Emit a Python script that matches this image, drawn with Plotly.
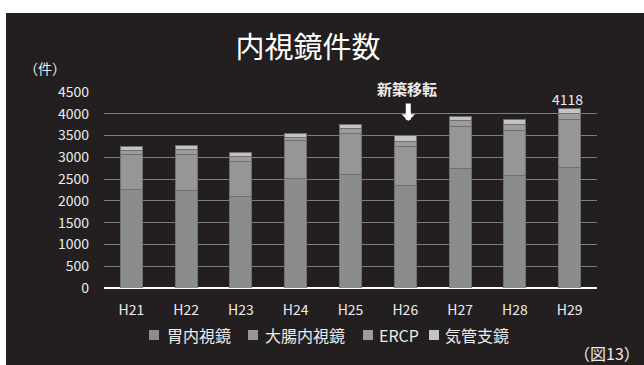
import plotly.graph_objects as go

# 年度ごとの内視鏡件数（積み上げ）
years = ["H21", "H22", "H23", "H24", "H25", "H26", "H27", "H28", "H29"]
gastro = [2270, 2236, 2098, 2511, 2603, 2358, 2741, 2587, 2760]      # 胃内視鏡
colon = [790, 828, 810, 868, 941, 888, 972, 1035, 1120]              # 大腸内視鏡
ercp = [95, 120, 115, 80, 115, 122, 122, 122, 120]                   # ERCP
broncho = [91, 85, 85, 92, 92, 130, 107, 122, 118]                   # 気管支鏡
y_ticks = [0, 500, 1000, 1500, 2000, 2500, 3000, 3500, 4000, 4500]

series = [
    ("胃内視鏡", gastro, "#8b8c8e"),
    ("大腸内視鏡", colon, "#969696"),
    ("ERCP", ercp, "#9c9c9c"),
    ("気管支鏡", broncho, "#c3c3c3"),
]

FONT = "Noto Sans CJK JP"
TXT = "#ececec"
BG = "#231f20"

# プロット領域（ピクセル）
L, R, T, B = 104, 47, 92, 77
W, H = 644, 365
PW, PH = W - L - R, H - T - B


def px_x(p):
    return (p - L) / PW


def px_y(p):
    return (H - B - p) / PH


fig = go.Figure()
for name, vals, col in series:
    fig.add_trace(go.Bar(
        x=years, y=vals, name=name, showlegend=False,
        marker=dict(color=col, line=dict(color="#707070", width=1)),
    ))

totals = [a + b + c + d for a, b, c, d in zip(gastro, colon, ercp, broncho)]

# 最終年度の合計値ラベル
fig.add_annotation(x=years[-1], y=totals[-1], text=str(totals[-1]),
                   showarrow=False, yshift=10, xshift=-2,
                   font=dict(family=FONT, size=14, color=TXT))

# 新築移転の注記と矢印
fig.add_annotation(x="H26", xref="x", yref="paper", y=px_y(89), yanchor="middle",
                   xshift=2, text="<b>新築移転</b>", showarrow=False,
                   font=dict(family=FONT, size=15, color=TXT))
fig.add_annotation(x="H26", xref="x", yref="paper", y=px_y(121), xshift=3,
                   ax=0, ay=-19, text="", showarrow=True, arrowhead=1,
                   arrowsize=0.45, arrowwidth=5, arrowcolor="white")

# 単位と図番号
fig.add_annotation(xref="paper", yref="paper", x=px_x(22), y=px_y(68),
                   xanchor="left", yanchor="middle", text="（件）", showarrow=False,
                   font=dict(family=FONT, size=14, color=TXT))
fig.add_annotation(xref="paper", yref="paper", x=px_x(642), y=px_y(353),
                   xanchor="right", yanchor="middle", text="（図13）", showarrow=False,
                   font=dict(family=FONT, size=16, color=TXT))

# 凡例
legend_marker_left = [149, 248, 363, 429]
legend_text_left = [165, 263, 377, 443]
for (name, _, col), mx, tx in zip(series, legend_marker_left, legend_text_left):
    fig.add_shape(type="rect", xref="paper", yref="paper",
                  x0=px_x(mx), x1=px_x(mx + 10), y0=px_y(340), y1=px_y(330),
                  fillcolor=col, line=dict(width=0))
    fig.add_annotation(xref="paper", yref="paper", x=px_x(tx), y=px_y(335),
                       xanchor="left", yanchor="middle", text=name, showarrow=False,
                       font=dict(family=FONT, size=16, color=TXT))

# 背景（上端・左端の白い余白を残す）
fig.add_shape(type="rect", xref="paper", yref="paper", layer="below",
              x0=px_x(6), x1=px_x(650), y0=px_y(370), y1=px_y(13),
              fillcolor=BG, line=dict(width=0))

fig.update_layout(
    width=W, height=H,
    margin=dict(l=L, r=R, t=T, b=B),
    paper_bgcolor="white",
    plot_bgcolor="rgba(0,0,0,0)",
    barmode="stack",
    bargap=0.6,
    title=dict(text="内視鏡件数", x=308 / W, xanchor="center",
               y=1 - 48 / H, yanchor="middle",
               font=dict(family=FONT, size=29, color="white")),
    font=dict(family=FONT, color=TXT),
    showlegend=False,
)
fig.update_xaxes(showgrid=False, showline=False, zeroline=False,
                 tickfont=dict(family=FONT, size=14, color=TXT),
                 ticklabelstandoff=12)
fig.update_yaxes(range=[0, 4500], tickvals=y_ticks,
                 showgrid=True, gridcolor="#7c7c7c", gridwidth=1,
                 zeroline=True, zerolinecolor="white", zerolinewidth=2,
                 tickfont=dict(family=FONT, size=14, color=TXT),
                 ticklabelstandoff=14)

fig.write_html("out.html")
